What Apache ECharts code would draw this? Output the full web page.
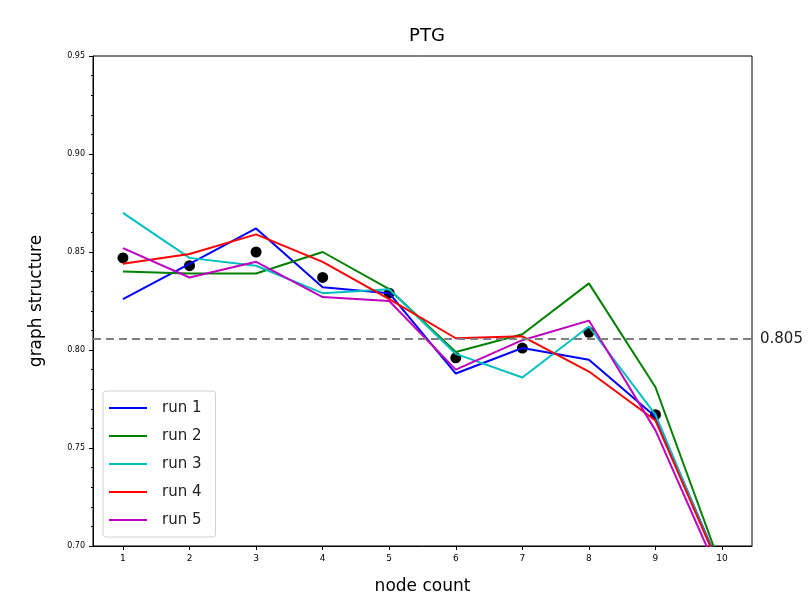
<!DOCTYPE html>
<html>
<head>
<meta charset="utf-8">
<script src="https://cdn.jsdelivr.net/npm/echarts@6/dist/echarts.min.js"></script>
<style>
  html, body { margin: 0; padding: 0; background: #fff; }
  #chart { width: 809px; height: 604px; }
</style>
</head>
<body>
<div id="chart"></div>
<script>
const nodeCounts = [1, 2, 3, 4, 5, 6, 7, 8, 9, 10];
const run1 = [0.826, 0.844, 0.862, 0.832, 0.829, 0.788, 0.801, 0.795, 0.766, 0.687];
const run2 = [0.840, 0.839, 0.839, 0.850, 0.831, 0.799, 0.808, 0.834, 0.781, 0.688];
const run3 = [0.870, 0.847, 0.843, 0.829, 0.831, 0.798, 0.786, 0.812, 0.767, 0.686];
const run4 = [0.844, 0.849, 0.859, 0.845, 0.826, 0.806, 0.807, 0.789, 0.764, 0.686];
const run5 = [0.852, 0.837, 0.845, 0.827, 0.825, 0.790, 0.805, 0.815, 0.759, 0.682];
const meanValues = [0.847, 0.843, 0.850, 0.837, 0.829, 0.796, 0.801, 0.809, 0.767, 0.686];
const overallMean = 0.8057;
const runNames = ['run 1', 'run 2', 'run 3', 'run 4', 'run 5'];
const runColors = ['#0000ff', '#008000', '#00bfbf', '#ff0000', '#bf00bf'];
const runs = [run1, run2, run3, run4, run5];
const yTicks = [0.70, 0.75, 0.80, 0.85, 0.90, 0.95];

const font = 'DejaVu Sans, sans-serif';
const chart = echarts.init(document.getElementById('chart'));

const lineSeries = runs.map((vals, i) => ({
  name: runNames[i],
  type: 'line',
  data: vals.map((v, j) => [nodeCounts[j], v]),
  symbol: 'none',
  z: 3,
  lineStyle: { color: runColors[i], width: 2 },
  itemStyle: { color: runColors[i] },
}));

const option = {
  animation: false,
  title: {
    text: 'PTG',
    left: 422,
    top: 22,
    textAlign: 'center',
    textStyle: { fontFamily: font, fontSize: 18, fontWeight: 'normal', color: '#000' },
  },
  grid: {
    left: 93,
    right: 57,
    top: 56,
    bottom: 58,
    show: true,
    borderColor: '#000',
    borderWidth: 1,
  },
  legend: {
    orient: 'vertical',
    left: 103,
    top: 391,
    data: runNames,
    icon: 'rect',
    itemWidth: 38,
    itemHeight: 2,
    itemGap: 10,
    padding: [8, 14, 8, 6],
    borderColor: '#d0d0d0',
    borderWidth: 1,
    borderRadius: 3,
    backgroundColor: 'rgba(255,255,255,0.8)',
    textStyle: { fontFamily: font, fontSize: 15, color: '#222', lineHeight: 18, padding: [0, 0, 0, 10] },
  },
  xAxis: {
    type: 'value',
    min: 0.55,
    max: 10.45,
    name: 'node count',
    nameLocation: 'middle',
    nameGap: 32,
    nameTextStyle: { fontFamily: font, fontSize: 17, color: '#000' },
    axisLine: { show: true, onZero: false, lineStyle: { color: '#000', width: 1 } },
    axisTick: { show: true, length: 4, customValues: nodeCounts, lineStyle: { color: '#000' } },
    axisLabel: {
      customValues: nodeCounts,
      fontFamily: font,
      fontSize: 9,
      color: '#000',
      margin: 8,
    },
    splitLine: { show: false },
  },
  yAxis: {
    type: 'value',
    min: 0.70,
    max: 0.95,
    name: 'graph structure',
    nameLocation: 'middle',
    nameGap: 48,
    nameTextStyle: { fontFamily: font, fontSize: 17, color: '#000' },
    axisLine: { show: true, onZero: false, lineStyle: { color: '#000', width: 1 } },
    axisTick: { show: true, length: 4, customValues: yTicks, lineStyle: { color: '#000' } },
    minorTick: { show: true, splitNumber: 5, length: 2, lineStyle: { color: '#000' } },
    axisLabel: {
      customValues: yTicks,
      fontFamily: font,
      fontSize: 8,
      color: '#000',
      margin: 8,
      formatter: v => v.toFixed(2),
    },
    interval: 0.05,
    splitLine: { show: false },
  },
  series: [
    {
      name: 'mean',
      type: 'scatter',
      data: meanValues.map((v, j) => [nodeCounts[j], v]),
      symbolSize: 11,
      itemStyle: { color: '#000', opacity: 1 },
      z: 2,
      markLine: {
        silent: true,
        symbol: 'none',
        precision: 4,
        lineStyle: { color: '#808080', type: [8, 5], width: 2 },
        label: {
          show: true,
          position: 'end',
          formatter: '0.805',
          fontFamily: font,
          fontSize: 15,
          color: '#222',
          distance: 8,
        },
        data: [{ yAxis: overallMean }],
      },
    },
    ...lineSeries,
  ],
};

chart.setOption(option);
</script>
</body>
</html>
